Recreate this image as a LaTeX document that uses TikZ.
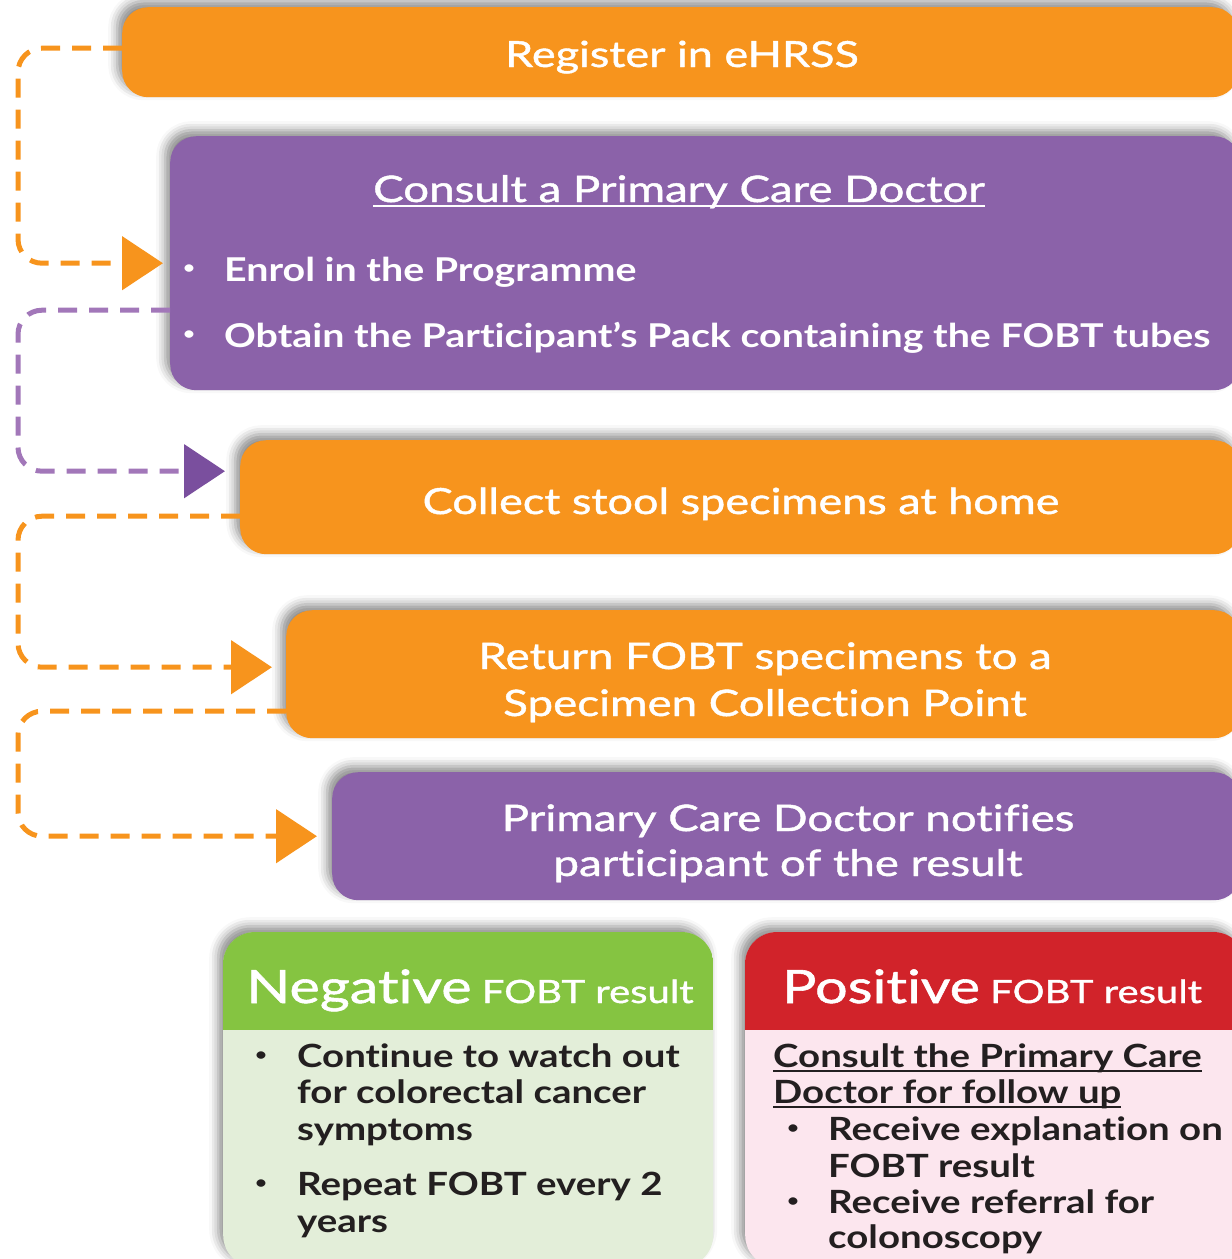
\documentclass[tikz,border=0pt]{standalone}
\usepackage{fontspec}
\setmainfont{Lato}[FakeStretch=1.2, RawFeature={-liga;-clig;-calt;-dlig}]
\newfontfamily\mediumfont{Lato}[FakeBold=1.2, FakeStretch=1.25, RawFeature={-liga;-clig;-calt;-dlig}]
\usetikzlibrary{arrows.meta, positioning, shadows.blur}
\definecolor{StepOrange}{HTML}{F7941D}
\definecolor{StepPurple}{HTML}{8B62A9}
\definecolor{LinePurple}{HTML}{A277B9}
\definecolor{TipPurple}{HTML}{7A4F9E}
\definecolor{NegGreen}{HTML}{85C441}
\definecolor{NegBody}{HTML}{E3EED9}
\definecolor{PosRed}{HTML}{D1232A}
\definecolor{PosBody}{HTML}{FCE6EE}
\definecolor{InkDark}{HTML}{231F20}

\begin{document}
\begin{tikzpicture}[x=1pt, y=-1pt,
    stepbox/.style={rounded corners=26pt, anchor=north west, inner sep=0pt,
        blur shadow={shadow xshift=-5pt, shadow yshift=6pt, shadow blur radius=9pt, shadow opacity=45}},
    orangebox/.style={stepbox, fill=StepOrange},
    purplebox/.style={stepbox, fill=StepPurple},
    resultbox/.style={stepbox, rounded corners=32pt, minimum width=490pt, minimum height=335pt},
    steptext/.style={anchor=base, inner sep=0pt, text=white, font=\mediumfont\fontsize{36}{40}\selectfont},
    bullettext/.style={anchor=base west, inner sep=0pt, text=white, font=\bfseries\fontsize{32.8}{40}\selectfont},
    dot/.style={anchor=base, inner sep=0pt, font=\fontsize{20}{20}\selectfont},
    headtext/.style={anchor=base, inner sep=0pt, text=white, font=\mediumfont\fontsize{32}{36}\selectfont},
    bodytext/.style={anchor=base west, inner sep=0pt, text=InkDark, font=\bfseries\fontsize{32}{36}\selectfont},
    flowline/.style={line width=5pt, dash pattern=on 19pt off 12pt, rounded corners=24pt},
    flowtip/.style={-{Triangle[length=41pt, width=53pt]}}
]
\useasboundingbox (0,0) rectangle (1232,1259);
\clip (0,0) rectangle (1232,1259);

% Steps
\node[orangebox, minimum width=1116pt, minimum height=90pt] (register) at (122,7) {};
\node[purplebox, minimum width=1070pt, minimum height=254pt] (consult) at (170,136) {};
\node[orangebox, minimum width=1000pt, minimum height=114pt] (collect) at (240,440) {};
\node[orangebox, minimum width=954pt, minimum height=128pt] (return) at (286,610) {};
\node[purplebox, minimum width=908pt, minimum height=128pt] (notify) at (332,772) {};

\node[steptext] (registertxt) at (682,67) {Register in eHRSS};

\node[steptext, font=\mediumfont\fontsize{36.5}{40}\selectfont] (consulttxt) at (679,202) {Consult a Primary Care Doctor};
\draw[white, line width=2pt] ([yshift=-4pt]consulttxt.base west) -- ([yshift=-4pt]consulttxt.base east);
\node[dot, text=white] (enroldot) at (189,274) {•};
\node[bullettext] (enroltxt) at (224,281) {Enrol in the Programme};
\node[dot, text=white] (packdot) at (189,340) {•};
\node[bullettext] (packtxt) at (224,347) {Obtain the Participant’s Pack containing the FOBT tubes};

\node[steptext] (collecttxt) at (741,514) {Collect stool specimens at home};

\node[steptext, font=\mediumfont\fontsize{36.5}{40}\selectfont] (returntxt1) at (765,669) {Return FOBT specimens to a};
\node[steptext, font=\mediumfont\fontsize{36.5}{40}\selectfont] (returntxt2) at (765,716) {Specimen Collection Point};

\node[steptext, font=\mediumfont\fontsize{36.5}{40}\selectfont] (notifytxt1) at (788,831) {Primary Care Doctor notifies};
\node[steptext, font=\mediumfont\fontsize{36.5}{40}\selectfont] (notifytxt2) at (788,876) {participant of the result};

% Dashed connectors along the left rail
\coordinate (rail) at (18,0);
\coordinate (out1) at ([yshift=4pt]register.west);
\draw[flowline, StepOrange, flowtip, shorten >=7pt] (out1) -| (rail |- consult.west) -- (consult.west);

\coordinate (out2) at ([yshift=-47pt]consult.west);
\coordinate (in2) at ([yshift=26pt]collect.west);
\draw[flowline, LinePurple, -{Triangle[length=41pt, width=53pt, color=TipPurple]}, shorten >=15pt]
    (out2) -| (rail |- in2) -- (in2);

\coordinate (out3) at ([yshift=-19pt]collect.west);
\coordinate (in3) at ([yshift=7pt]return.west);
\draw[flowline, StepOrange, flowtip, shorten >=14pt] (out3) -| (rail |- in3) -- (in3);

\coordinate (out4) at ([yshift=-37pt]return.west);
\draw[flowline, StepOrange, flowtip, shorten >=15pt] (out4) -| (rail |- notify.west) -- (notify.west);

% Results
\node[resultbox, fill=NegBody] (negative) at (223,932) {};
\node[resultbox, fill=PosBody, minimum width=500pt] (positive) at (745,932) {};
\begin{scope}
    \clip[rounded corners=32pt] (negative.north west) rectangle (negative.south east);
    \fill[NegGreen] (negative.north west) rectangle ([yshift=-98pt]negative.north east);
\end{scope}
\begin{scope}
    \clip[rounded corners=32pt] (positive.north west) rectangle (positive.south east);
    \fill[PosRed] (positive.north west) rectangle ([yshift=-98pt]positive.north east);
\end{scope}

\node[headtext] (neghead) at (470,1003) {{\fontsize{46}{50}\selectfont Negative} FOBT result};
\node[headtext] (poshead) at (992,1003) {{\fontsize{46}{50}\selectfont Positive} FOBT result};

\node[dot, text=InkDark] (negdot1) at (261,1061) {•};
\node[dot, text=InkDark] (negdot2) at (261,1189) {•};
\foreach \txt/\yy [count=\i] in {Continue to watch out/1067, for colorectal cancer/1103,
        symptoms/1140, Repeat FOBT every 2/1195, years/1232}
    \node[bodytext] (negline\i) at (297,\yy) {\txt};

\node[bodytext] (posline1) at (773,1067) {Consult the Primary Care\hspace{10pt}};
\node[bodytext] (posline2) at (773,1103) {Doctor for follow up};
\draw[InkDark, line width=2pt] ([yshift=-4pt]posline1.base west) -- ([yshift=-4pt]posline1.base east);
\draw[InkDark, line width=2pt] ([yshift=-4pt]posline2.base west) -- ([yshift=-4pt]posline2.base east);
\node[dot, text=InkDark] (posdot1) at (793,1134) {•};
\node[dot, text=InkDark] (posdot2) at (793,1207) {•};
\foreach \txt/\yy [count=\i] in {Receive explanation on/1140, FOBT result/1177,
        Receive referral for/1213, colonoscopy/1248}
    \node[bodytext] (positem\i) at (828,\yy) {\txt};
\end{tikzpicture}
\end{document}
